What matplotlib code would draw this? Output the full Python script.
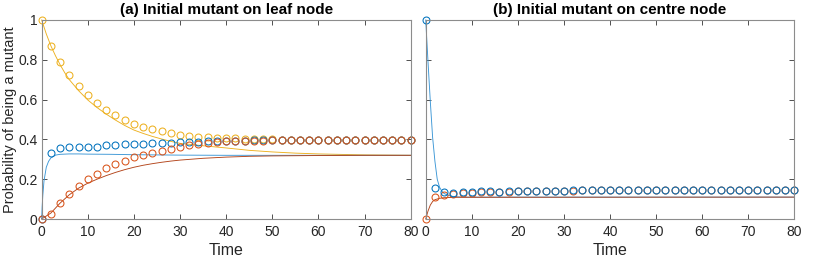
import matplotlib
matplotlib.use("Agg")
import matplotlib.pyplot as plt
from matplotlib.ticker import FixedLocator, FuncFormatter

plt.rcParams['font.family'] = ['Liberation Sans', 'DejaVu Sans']

# ---------------- data ----------------
t_markers = list(range(0, 81, 2))

# Panel (a): initial mutant on leaf node
a_yellow_mk = [1.0, 0.869, 0.791, 0.724, 0.670, 0.623, 0.581, 0.548, 0.521, 0.497,
               0.477, 0.462, 0.451, 0.442, 0.432, 0.424, 0.419, 0.414, 0.410, 0.409,
               0.407, 0.405, 0.404, 0.402, 0.401, 0.400, 0.399, 0.399, 0.398, 0.398,
               0.397, 0.397, 0.397, 0.397, 0.397, 0.397, 0.397, 0.397, 0.397, 0.397, 0.397]
a_blue_mk = [0.0, 0.333, 0.355, 0.363, 0.362, 0.362, 0.363, 0.374, 0.370, 0.377,
             0.377, 0.379, 0.384, 0.380, 0.384, 0.385, 0.389, 0.389, 0.390, 0.391,
             0.392, 0.393, 0.394, 0.396, 0.397, 0.397, 0.397, 0.396, 0.397, 0.396,
             0.396, 0.396, 0.396, 0.396, 0.396, 0.396, 0.396, 0.396, 0.396, 0.396, 0.396]
a_orange_mk = [0.0, 0.027, 0.082, 0.126, 0.168, 0.201, 0.228, 0.255, 0.276, 0.293,
               0.310, 0.322, 0.333, 0.343, 0.353, 0.362, 0.370, 0.377, 0.384, 0.386,
               0.390, 0.391, 0.392, 0.393, 0.394, 0.395, 0.396, 0.396, 0.397, 0.397,
               0.396, 0.396, 0.396, 0.396, 0.396, 0.396, 0.396, 0.396, 0.396, 0.396, 0.396]

a_yellow_t = [0, 1, 2, 3, 4, 5, 6, 8, 10, 12, 14, 16, 18, 20, 22, 24, 26, 28, 30,
              35, 40, 45, 50, 55, 60, 70, 80]
a_yellow_ln = [1.0, 0.93, 0.87, 0.82, 0.775, 0.735, 0.70, 0.645, 0.598, 0.56, 0.527,
               0.497, 0.47, 0.447, 0.43, 0.415, 0.402, 0.39, 0.38, 0.368, 0.357,
               0.345, 0.337, 0.331, 0.327, 0.322, 0.32]
a_blue_t = [0, 0.1, 0.25, 0.5, 1, 1.5, 2, 3, 4, 6, 8, 10, 15, 20, 30, 40, 80]
a_blue_ln = [0.0, 0.06, 0.12, 0.19, 0.26, 0.29, 0.307, 0.321, 0.325, 0.327, 0.327,
             0.326, 0.325, 0.323, 0.321, 0.32, 0.32]
a_orange_t = [0, 2, 4, 6, 8, 10, 12, 14, 16, 18, 20, 22, 24, 26, 28, 30, 35, 40,
              45, 50, 60, 70, 80]
a_orange_ln = [0.0, 0.03, 0.08, 0.122, 0.155, 0.18, 0.20, 0.218, 0.234, 0.248, 0.26,
               0.27, 0.278, 0.285, 0.291, 0.296, 0.305, 0.311, 0.315, 0.317, 0.319,
               0.32, 0.32]

# Panel (b): initial mutant on centre node
b_blue_mk = [1.0, 0.154, 0.134, 0.132, 0.134, 0.136, 0.141, 0.141, 0.138, 0.139,
             0.139, 0.140, 0.140, 0.141, 0.142, 0.143, 0.144, 0.144, 0.145, 0.146,
             0.146, 0.145, 0.146, 0.146, 0.146, 0.146, 0.146, 0.146, 0.146, 0.146,
             0.146, 0.146, 0.146, 0.146, 0.146, 0.146, 0.146, 0.146, 0.146, 0.146, 0.146]
b_orange_mk = [0.0, 0.109, 0.121, 0.127, 0.129, 0.131, 0.134, 0.136, 0.137, 0.138,
               0.139, 0.139, 0.140, 0.141, 0.141, 0.142, 0.143, 0.144, 0.145, 0.146,
               0.146, 0.145, 0.146, 0.146, 0.146, 0.146, 0.146, 0.146, 0.146, 0.146,
               0.146, 0.146, 0.146, 0.146, 0.146, 0.146, 0.146, 0.146, 0.146, 0.146, 0.146]
b_blue_t = [0, 0.5, 1, 1.5, 2, 2.5, 3, 3.5, 4, 5, 6, 8, 10, 80]
b_blue_ln = [1.0, 0.79, 0.59, 0.41, 0.29, 0.20, 0.16, 0.14, 0.128, 0.118, 0.113,
             0.11, 0.11, 0.11]
b_orange_t = [0, 0.5, 1, 1.5, 2, 3, 4, 6, 80]
b_orange_ln = [0.0, 0.04, 0.07, 0.088, 0.097, 0.104, 0.107, 0.109, 0.11]

titles = ["(a) Initial mutant on leaf node", "(b) Initial mutant on centre node"]
x_ticks = [0, 10, 20, 30, 40, 50, 60, 70, 80]
y_ticks = [0, 0.2, 0.4, 0.6, 0.8, 1.0]

BLUE = "#0072BD"
ORANGE = "#D95319"
YELLOW = "#EDB120"
BLUE_LN = "#3C97D6"
ORANGE_LN = "#B3441A"
YELLOW_LN = "#EDB120"
FRAME = "#8c8c8c"

fig = plt.figure(figsize=(8.3, 2.73), dpi=100)
axA = fig.add_axes([0.0502, 0.1978, 0.4446, 0.729])
axB = fig.add_axes([0.5129, 0.1978, 0.4441, 0.729])

mk = dict(linestyle='none', marker='o', markersize=5.0, markerfacecolor='none',
          markeredgewidth=0.75)
lw = 0.65

# panel a
axA.plot(a_yellow_t, a_yellow_ln, color=YELLOW_LN, lw=lw)
axA.plot(a_blue_t, a_blue_ln, color=BLUE_LN, lw=lw)
axA.plot(a_orange_t, a_orange_ln, color=ORANGE_LN, lw=lw)
axA.plot(t_markers, a_yellow_mk, color=YELLOW, **mk)
axA.plot(t_markers, a_blue_mk, color=BLUE, **mk)
axA.plot(t_markers, a_orange_mk, color=ORANGE, **mk)

# panel b
axB.plot(b_blue_t, b_blue_ln, color=BLUE_LN, lw=lw)
axB.plot(b_orange_t, b_orange_ln, color=ORANGE_LN, lw=lw)
axB.plot(t_markers, b_orange_mk, color=ORANGE, **mk)
axB.plot(t_markers, b_blue_mk, color=BLUE, **mk)

def fmt(v, pos):
    s = f"{v:.1f}"
    if s.endswith(".0"):
        s = s[:-2]
    return s

for ax, title in zip([axA, axB], titles):
    ax.set_xlim(0, 80)
    ax.set_ylim(0, 1)
    ax.xaxis.set_major_locator(FixedLocator(x_ticks))
    ax.yaxis.set_major_locator(FixedLocator(y_ticks))
    ax.yaxis.set_major_formatter(FuncFormatter(fmt))
    ax.tick_params(direction='in', top=True, right=True, length=3.5, width=0.6,
                   color='#333333', labelsize=10, labelcolor='#262626', pad=4)
    ax.tick_params(axis='y', pad=3)
    for sp in ax.spines.values():
        sp.set_color(FRAME)
        sp.set_linewidth(0.8)
    ax.set_title(title, fontsize=11, fontweight='bold', pad=4, color='black')
    ax.set_xlabel("Time", fontsize=11.5, color='#262626', labelpad=3)
    for line in ax.get_lines():
        line.set_clip_on(False)

axA.set_ylabel("Probability of being a mutant", fontsize=10.5, color='#262626')
axA.yaxis.set_label_coords(-0.066, 0.5)
axB.tick_params(labelleft=False)

fig.savefig("out.png", dpi=100)
